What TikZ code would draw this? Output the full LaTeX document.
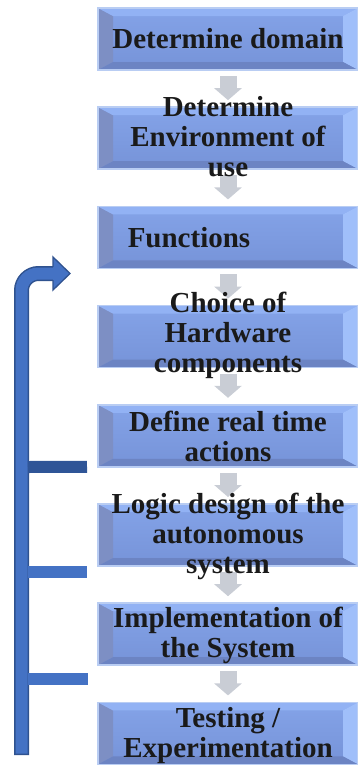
\documentclass[tikz,border=0pt]{standalone}
\usepackage{fontspec}
\setmainfont{Liberation Serif}
\usetikzlibrary{arrows.meta}
\definecolor{bvtop}{HTML}{92B2F4}
\definecolor{bvleft}{HTML}{7D8FC4}
\definecolor{bvright}{HTML}{A0BFFA}
\definecolor{bvbot}{HTML}{6C84C3}
\definecolor{midtop}{HTML}{84A3E8}
\definecolor{midbot}{HTML}{7693D8}
\definecolor{glow}{HTML}{B9CDF3}
\definecolor{grayarr}{HTML}{C9CDD5}
\definecolor{fbblue}{HTML}{4472C4}
\definecolor{fbdark}{HTML}{2F528F}
\definecolor{bardark}{HTML}{2F5597}
\definecolor{ink}{HTML}{1A1A1A}
\tikzset{
  stepbox/.style={minimum width=260pt, minimum height=62pt, inner sep=0pt, outer sep=0pt,
    draw=glow, line width=1.5pt,
    path picture={
      \coordinate (sw) at (path picture bounding box.south west);
      \coordinate (se) at (path picture bounding box.south east);
      \coordinate (nw) at (path picture bounding box.north west);
      \coordinate (ne) at (path picture bounding box.north east);
      \shade[top color=midtop, bottom color=midbot] (sw) rectangle (ne);
      \fill[bvleft] (sw) -- (nw) -- ([xshift=15pt,yshift=-8pt]nw) -- ([xshift=15pt,yshift=8pt]sw) -- cycle;
      \fill[bvtop] (nw) -- (ne) -- ([xshift=-15pt,yshift=-8pt]ne) -- ([xshift=15pt,yshift=-8pt]nw) -- cycle;
      \fill[bvright] (ne) -- (se) -- ([xshift=-15pt,yshift=8pt]se) -- ([xshift=-15pt,yshift=-8pt]ne) -- cycle;
      \fill[bvbot] (sw) -- (se) -- ([xshift=-15pt,yshift=8pt]se) -- ([xshift=15pt,yshift=8pt]sw) -- cycle;
    }},
  steptext/.style={align=center, text=ink, inner sep=0pt,
    font=\fontsize{29}{30}\selectfont\bfseries},
  flowarrow/.style={grayarr, line width=17pt, -{Triangle[width=27pt,length=12pt]}},
  fbbar/.style={line width=12pt},
}
\begin{document}
\begin{tikzpicture}[x=1pt,y=-1pt]
\useasboundingbox (0,0) rectangle (357,766);
% step boxes
\node[stepbox] (b1) at (228,39) {};
\node[stepbox] (b2) at (228,138.2) {};
\node[stepbox] (b3) at (228,237.4) {};
\node[stepbox] (b4) at (228,336.6) {};
\node[stepbox] (b5) at (228,435.8) {};
\node[stepbox] (b6) at (228,535) {};
\node[stepbox] (b7) at (228,634.2) {};
\node[stepbox] (b8) at (228,733.4) {};
% gray arrows between the steps
\foreach \a/\b in {b1/b2,b2/b3,b3/b4,b4/b5,b5/b6,b6/b7,b7/b8}
  \draw[flowarrow] ([yshift=-6pt]\a.south) -- ([yshift=7pt]\b.north);
% texts
\node[steptext] (t1) at (b1) {Determine domain};
\node[steptext] (t2) at ([yshift=1.5pt]b2) {Determine\\Environment of\\use};
\node[steptext] (t3) at ([xshift=-39pt]b3) {Functions};
\node[steptext] (t4) at ([yshift=1.5pt]b4) {Choice of\\Hardware\\components};
\node[steptext] (t5) at ([yshift=-1pt]b5) {Define real time\\actions};
\node[steptext] (t6) at ([yshift=-1.5pt]b6) {Logic design of the\\autonomous\\system};
\node[steptext] (t7) at ([yshift=-1.5pt]b7) {Implementation of\\the System};
\node[steptext] (t8) at ([yshift=-2.5pt]b8) {Testing /\\Experimentation};
% feedback arrow
\coordinate (fbbase) at (21.5,755);
\coordinate (fbturn) at (21.5,273.5);
\coordinate (fbend) at (54,273.5);
\coordinate (fbtip) at (70,273.5);
\draw[fbdark, line width=15pt, rounded corners=17pt] (fbbase) -- (fbturn) -- (fbend);
\draw[fbblue, line width=12pt, rounded corners=17pt] ([yshift=1.5pt]fbbase) -- (fbturn) -- ([xshift=1pt]fbend);
\fill[fbblue] (53,257) -- (fbtip) -- (53,290) -- cycle;
\draw[fbdark, line width=1.3pt, line join=miter] (53,267) -- (53,257) -- (fbtip) -- (53,290) -- (53,280);
% branches
\coordinate (br1) at (28,467);
\coordinate (br2) at (28,572);
\coordinate (br3) at (28,678.5);
\draw[fbbar, bardark] (br1) -- ([xshift=-11pt]b5.south west);
\draw[fbbar, fbblue] (br2) -- ++(59,0);
\draw[fbbar, fbblue] (br3) -- ++(60,0);
\end{tikzpicture}
\end{document}
